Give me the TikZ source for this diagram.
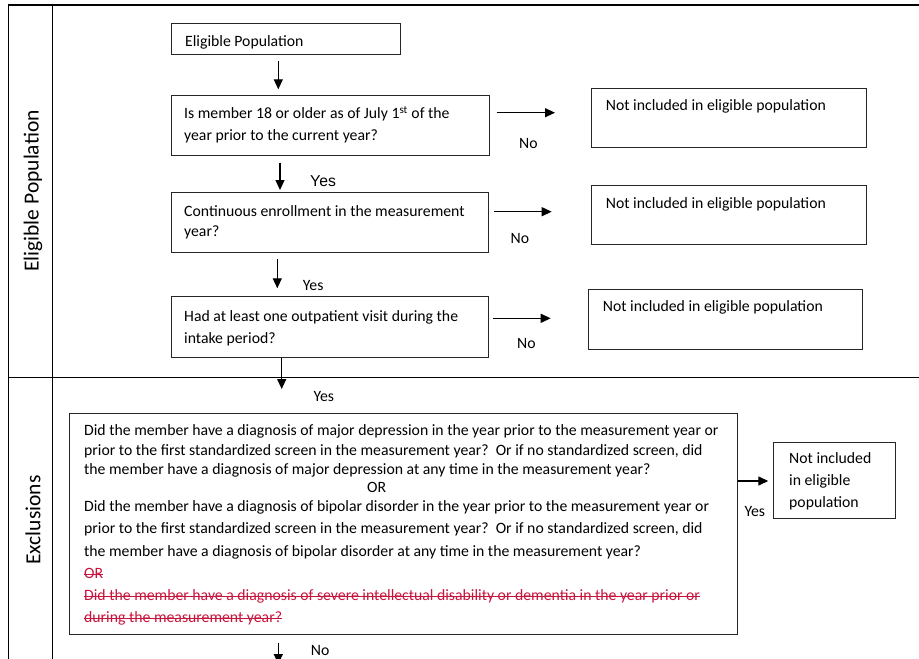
\documentclass[tikz,border=0pt]{standalone}
\usepackage{fontspec}
\setmainfont{Carlito}
\newfontfamily\arialf{Liberation Sans}
\usetikzlibrary{arrows.meta}
\definecolor{strikered}{RGB}{200,20,60}
\begin{document}
\begin{tikzpicture}[x=1pt,y=-1pt,
  box/.style={draw=black!85, line width=0.9pt, anchor=north west, inner sep=0pt},
  txt/.style={anchor=base west, inner sep=0pt, font=\fontsize{15.75}{18}\selectfont},
  lanelbl/.style={inner sep=0pt, rotate=90, font=\fontsize{21.5}{24}\selectfont},
  laneline/.style={line width=1.1pt},
  arr/.style={line width=1.3pt, -{Triangle[length=10pt,width=9pt]}},
  struck/.style={txt, text=strikered},
  strikeline/.style={draw=strikered, line width=0.9pt}]

\useasboundingbox (0,0) rectangle (919,659);

% swimlanes
\draw[laneline] (8.3,5) -- (919,5);
\draw[laneline] (8.3,5) -- (8.3,659);
\draw[laneline] (52.3,5) -- (52.3,659);
\draw[laneline] (8.3,377.3) -- (919,377.3);
\node[lanelbl] (lane1) at (33,191) {Eligible Population};
\node[lanelbl] (lane2) at (33,520) {Exclusions};

% boxes
\node[box, minimum width=229.3pt, minimum height=31.6pt] (ep) at (170.7,22.7) {};
\node[box, minimum width=318.3pt, minimum height=60pt] (q1) at (170.7,95.3) {};
\node[box, minimum width=317.6pt, minimum height=60pt] (q2) at (170.7,191.7) {};
\node[box, minimum width=317.6pt, minimum height=60.7pt] (q3) at (170.7,296) {};
\node[box, minimum width=275pt, minimum height=59pt] (ni1) at (590.7,87.7) {};
\node[box, minimum width=275pt, minimum height=59pt] (ni2) at (590.7,185) {};
\node[box, minimum width=274.6pt, minimum height=59.7pt] (ni3) at (587.7,289.3) {};
\node[box, minimum width=667.7pt, minimum height=221.6pt] (big) at (69,412.7) {};
\node[box, minimum width=121.7pt, minimum height=76.6pt] (ni4) at (773.3,441.7) {};

% box texts
\node[txt] (tep) at (185,46) {Eligible Population};
\node[txt] (tq1a) at (184,118.3) {Is member 18 or older as of July 1\textsuperscript{st} of the};
\node[txt] (tq1b) at (184,140) {year prior to the current year?};
\node[txt] (tq2a) at (184,216.7) {Continuous enrollment in the measurement};
\node[txt] (tq2b) at (184,236.7) {year?};
\node[txt] (tq3a) at (184,321.7) {Had at least one outpatient visit during the};
\node[txt] (tq3b) at (184,343.3) {intake period?};
\node[txt] (tni1) at (605.7,110) {Not included in eligible population};
\node[txt] (tni2) at (605.7,208.3) {Not included in eligible population};
\node[txt] (tni3) at (602.7,311.7) {Not included in eligible population};
\node[txt] (tni4a) at (789,463.3) {Not included};
\node[txt] (tni4b) at (789,485.7) {in eligible};
\node[txt] (tni4c) at (789,507.3) {population};

\node[txt] (b1) at (84,435) {Did the member have a diagnosis of major depression in the year prior to the measurement year or};
\node[txt] (b2) at (84,455) {prior to the first standardized screen in the measurement year?\ \ Or if no standardized screen, did};
\node[txt] (b3) at (84,474) {the member have a diagnosis of major depression at any time in the measurement year?};
\node[txt, anchor=base] (b4) at (376.7,492.7) {OR};
\node[txt] (b5) at (84,511.7) {Did the member have a diagnosis of bipolar disorder in the year prior to the measurement year or};
\node[txt] (b6) at (84,533.3) {prior to the first standardized screen in the measurement year?\ \ Or if no standardized screen, did};
\node[txt] (b7) at (84,556.7) {the member have a diagnosis of bipolar disorder at any time in the measurement year?};
\node[struck] (b8) at (84,578.3) {OR};
\node[struck] (b9) at (84,600.7) {Did the member have a diagnosis of severe intellectual disability or dementia in the year prior or};
\node[struck] (b10) at (84,622.3) {during the measurement year?};
\draw[strikeline] ([yshift=4.3pt]b8.base west) -- ([yshift=4.3pt]b8.base east);
\draw[strikeline] ([yshift=4.3pt]b9.base west) -- ([yshift=4.3pt]b9.base east);
\draw[strikeline] ([yshift=4.3pt]b10.base west) -- ([yshift=4.3pt]b10.base east);

% connector labels
\node[txt] (no1) at (519,148.3) {No};
\node[txt] (no2) at (510.5,243.3) {No};
\node[txt] (no3) at (517,348.3) {No};
\node[txt, font=\arialf\fontsize{15.75}{18}\selectfont] (yes1) at (310,186.7) {Yes};
\node[txt] (yes2) at (302.7,290.7) {Yes};
\node[txt] (yes3) at (313.3,401.7) {Yes};
\node[txt] (yes4) at (744.3,516.7) {Yes};
\node[txt] (no4) at (310.7,655) {No};

% connectors
\draw[arr, shorten <=5.7pt, shorten >=6pt] (278.3,0 |- ep.south) -- (278.3,0 |- q1.north);
\draw[arr, shorten <=6.4pt, shorten >=1.7pt] (280,0 |- q1.south) -- (280,0 |- q2.north);
\draw[arr, shorten <=6.3pt, shorten >=7.7pt] (277.3,0 |- q2.south) -- (277.3,0 |- q3.north);
\draw[arr, shorten >=23.7pt] (281.7,0 |- q3.south) -- (281.7,0 |- big.north);
\coordinate (bottomend) at (278.3,664);
\draw[arr, shorten <=7.4pt] (278.3,0 |- big.south) -- (bottomend);

\draw[arr, shorten <=7pt, shorten >=35.7pt] (q1.east |- 0,112.7) -- (ni1.west |- 0,112.7);
\draw[arr, shorten <=5pt, shorten >=39pt] (q2.east |- 0,211.7) -- (ni2.west |- 0,211.7);
\draw[arr, shorten <=4pt, shorten >=37pt] (q3.east |- 0,318.3) -- (ni3.west |- 0,318.3);
\draw[arr, shorten >=5pt] (big.east |- 0,481) -- (ni4.west |- 0,481);
\end{tikzpicture}
\end{document}
